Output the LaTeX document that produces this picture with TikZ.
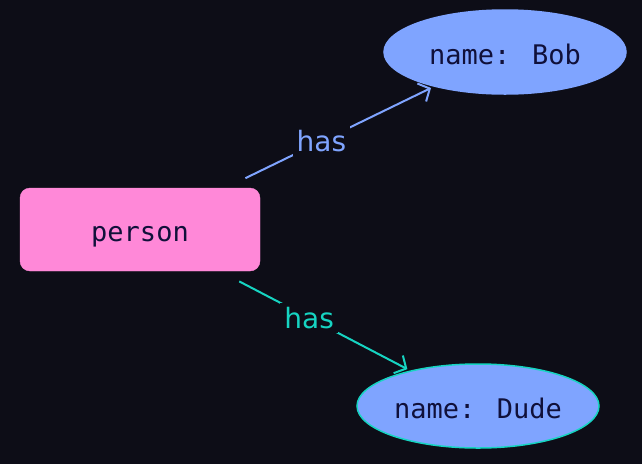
\documentclass[tikz,border=0pt]{standalone}
\usepackage{fontspec}
\setmainfont{DejaVu Sans}
\newfontfamily\monofnt{DejaVu Sans Mono}
\usetikzlibrary{arrows.meta,shapes.geometric}
\definecolor{bgc}{HTML}{0D0D17}
\definecolor{pinkc}{HTML}{FF88D8}
\definecolor{bluec}{HTML}{7FA4FF}
\definecolor{tealc}{HTML}{16D4C2}
\definecolor{inkc}{HTML}{10103A}
\tikzset{
  entity/.style={draw=pinkc, fill=pinkc, rounded corners=10pt, minimum width=240pt, minimum height=83pt, text=inkc, font=\monofnt\fontsize{27}{30}\selectfont, inner sep=0pt, text height=24pt, text depth=0pt},
  attr/.style={ellipse, fill=bluec, minimum width=242pt, minimum height=84pt, text=inkc, font=\monofnt\fontsize{27}{30}\selectfont, inner sep=0pt, line width=1.5pt, text height=24pt, text depth=0pt},
  rel/.style={line width=2pt, shorten <=22pt, shorten >=3pt, -{Straight Barb[length=9pt,width=20pt,line width=2pt]}},
  rellabel/.style={fill=bgc, inner sep=4pt, font=\fontsize{28}{30}\selectfont}
}
\begin{document}
\begin{tikzpicture}[x=1pt,y=-1pt]
\fill[bgc] (0,0) rectangle (642,464);
\useasboundingbox (0,0) rectangle (642,464);
\node[entity] (person) at (140,229.5) {person};
\node[attr, draw=bluec] (bob) at (505,52) {name: Bob};
\node[attr, draw=tealc] (dude) at (478,406) {name: Dude};
\draw[rel, bluec] (person) -- node[rellabel, pos=0.46, text=bluec] (l1) {has} (bob);
\draw[rel, tealc] (person) -- node[rellabel, pos=0.47, text=tealc] (l2) {has} (dude);
\end{tikzpicture}
\end{document}
